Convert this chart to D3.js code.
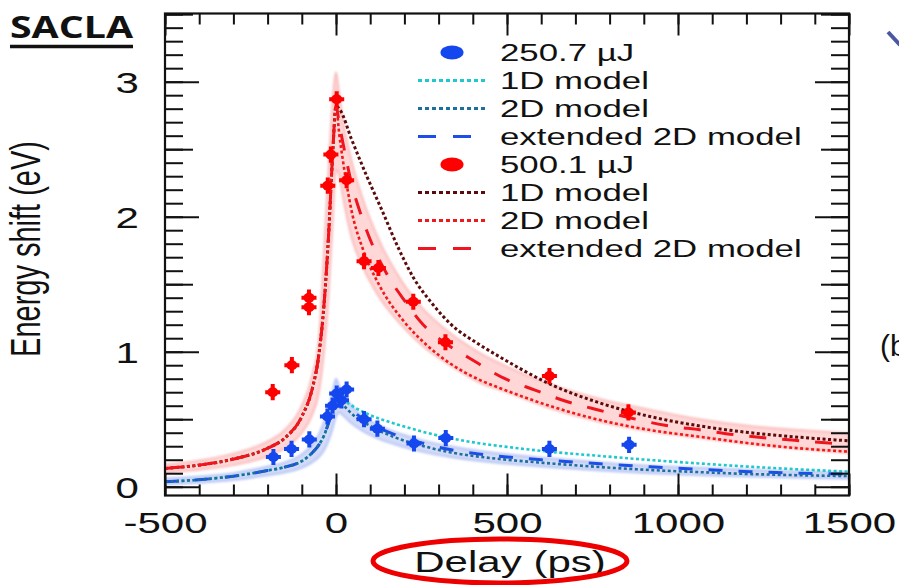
<!DOCTYPE html>
<head>
  <meta charset="utf-8">
  <title></title>
</head>
<style media="screen">
  body { margin: 0; background: white; }
  svg text { font-family: "Liberation Sans", Arial, sans-serif; fill: #111; }
  .ticks line { stroke: #111; stroke-width: 2px; }
  .ticks path { display: none; }
</style>
<body>
  <script src="https://d3js.org/d3.v7.min.js"></script>
  <svg id="svg_chart" width="899" height="585"></svg>
  <script type="text/javascript">
    // measured points (delay in ps, shift in eV)
    var blueT = [-183, -130, -78, -25, -10, 2, 16, 31, 82, 121, 228, 321, 624, 857]
    var blueV = [0.22, 0.28, 0.35, 0.52, 0.60, 0.69, 0.64, 0.72, 0.50, 0.43, 0.32, 0.36, 0.28, 0.31]
    var redT = [-185, -129, -79, -79, -24, -15, 2, 31, 82, 124, 226, 320, 624, 855]
    var redV = [0.70, 0.90, 1.40, 1.33, 2.23, 2.46, 2.87, 2.27, 1.67, 1.62, 1.37, 1.07, 0.82, 0.55]
    var errT = 22, errV = 0.06

    // model curves, rising edge shared by the three models
    var riseT = [-500, -400, -300, -200, -150, -100, -70, -50, -35, -22, -10, 0]
    var redRise = [0.135, 0.16, 0.205, 0.285, 0.36, 0.52, 0.72, 0.98, 1.35, 1.85, 2.45, 2.82]
    var blueRise = [0.037, 0.052, 0.078, 0.12, 0.145, 0.19, 0.25, 0.31, 0.38, 0.47, 0.57, 0.66]

    var red1D = [[12, 2.79], [46, 2.57], [90, 2.3], [134, 2.05], [182, 1.77], [226, 1.55], [280, 1.36], [333, 1.21], [421, 1.05], [480, 0.96], [626, 0.76], [772, 0.62], [918, 0.52], [1064, 0.45], [1211, 0.40], [1357, 0.366], [1500, 0.34]]
    var red2D = [[10, 2.6], [20, 2.42], [45, 2.05], [80, 1.75], [125, 1.5], [200, 1.22], [265, 1.05], [333, 0.914], [421, 0.79], [480, 0.73], [626, 0.598], [772, 0.494], [918, 0.42], [1064, 0.37], [1211, 0.321], [1357, 0.284], [1500, 0.26]]
    var redExt = [[10, 2.68], [20, 2.55], [45, 2.25], [75, 2.0], [110, 1.77], [150, 1.57], [200, 1.38], [255, 1.2], [319, 1.065], [392, 0.95], [494, 0.8], [582, 0.716], [670, 0.635], [767, 0.568], [865, 0.507], [962, 0.455], [1069, 0.42], [1167, 0.385], [1274, 0.358], [1371, 0.338], [1500, 0.312]]
    var blue1D = [[10, 0.66], [25, 0.635], [51, 0.593], [100, 0.53], [168, 0.47], [250, 0.41], [314, 0.37], [411, 0.325], [500, 0.295], [626, 0.259], [772, 0.228], [918, 0.198], [1064, 0.172], [1211, 0.148], [1357, 0.128], [1500, 0.111]]
    var blue2D = [[10, 0.64], [20, 0.61], [51, 0.53], [100, 0.45], [168, 0.37], [250, 0.305], [333, 0.255], [411, 0.225], [500, 0.2], [626, 0.173], [772, 0.146], [918, 0.124], [1064, 0.108], [1211, 0.094], [1357, 0.085], [1500, 0.079]]
    var blueExt = [[10, 0.65], [20, 0.625], [51, 0.555], [100, 0.47], [168, 0.39], [250, 0.325], [333, 0.275], [411, 0.245], [500, 0.22], [626, 0.195], [772, 0.17], [918, 0.148], [1064, 0.128], [1211, 0.111], [1357, 0.1], [1500, 0.094]]

    // uncertainty bands
    var bandT = [-500, -400, -300, -200, -150, -100, -70, -50, -35, -22, -10, 0, 10, 20, 45, 80, 120, 190, 250, 333, 421, 500, 626, 772, 918, 1064, 1211, 1357, 1500]
    var redHi = [0.165, 0.195, 0.245, 0.335, 0.42, 0.6, 0.82, 1.1, 1.75, 2.35, 2.85, 3.07, 2.9, 2.72, 2.42, 2.12, 1.86, 1.53, 1.33, 1.14, 0.99, 0.89, 0.76, 0.65, 0.57, 0.5, 0.45, 0.42, 0.395]
    var redLo = [0.105, 0.125, 0.16, 0.225, 0.285, 0.4, 0.53, 0.7, 1.0, 1.4, 1.95, 2.35, 2.3, 2.15, 1.85, 1.62, 1.43, 1.2, 1.05, 0.9, 0.77, 0.7, 0.58, 0.48, 0.41, 0.36, 0.315, 0.28, 0.25]
    var blueHi = [0.06, 0.075, 0.1, 0.15, 0.18, 0.24, 0.31, 0.39, 0.48, 0.58, 0.7, 0.8, 0.74, 0.69, 0.6, 0.52, 0.46, 0.39, 0.345, 0.3, 0.265, 0.24, 0.21, 0.18, 0.155, 0.14, 0.125, 0.112, 0.105]
    var blueLo = [0.018, 0.03, 0.05, 0.085, 0.105, 0.14, 0.18, 0.22, 0.27, 0.34, 0.43, 0.52, 0.55, 0.53, 0.47, 0.41, 0.36, 0.3, 0.26, 0.22, 0.19, 0.17, 0.145, 0.12, 0.1, 0.085, 0.075, 0.066, 0.06]

    var xMajor = [-500, 0, 500, 1000, 1500]
    var yMajor = [0, 1, 2, 3]

    var legendItems = [
      { label: "250.7 µJ", kind: "dot", color: "#1448ee" },
      { label: "1D model", kind: "line", color: "#1ec8cc", dash: "4,3" },
      { label: "2D model", kind: "line", color: "#1d6f9c", dash: "4,3" },
      { label: "extended 2D model", kind: "line", color: "#1c4fe8", dash: "18,17" },
      { label: "500.1 µJ", kind: "dot", color: "#ff0000" },
      { label: "1D model", kind: "line", color: "#5c0a0a", dash: "4,3" },
      { label: "2D model", kind: "line", color: "#f01818", dash: "4,3" },
      { label: "extended 2D model", kind: "line", color: "#f0141e", dash: "18,17" }
    ]

    var SX = "scale(1.45,1)"   // the figure is stretched sideways
    var svg = d3.select("#svg_chart")

    var x = d3.scaleLinear().domain([-500, 1500]).range([165, 849])
    var y = d3.scaleLinear().domain([-0.065, 3.505]).range([495.5, 13.5])

    var defs = svg.append("defs")
    defs.append("filter").attr("id", "soft")
      .append("feGaussianBlur").attr("stdDeviation", 1.2)
    defs.append("clipPath").attr("id", "plotclip")
      .append("rect").attr("x", 165).attr("y", 13.5).attr("width", 684).attr("height", 482)

    var plot = svg.append("g").attr("clip-path", "url(#plotclip)")

    // bands
    var band = d3.area()
      .x((d, i) => x(bandT[i]))
      .curve(d3.curveMonotoneX)
    var bands = plot.append("g").attr("filter", "url(#soft)")
    bands.append("path")
      .attr("d", band.y0((d, i) => y(redLo[i])).y1((d, i) => y(redHi[i]))(bandT))
      .style("fill", "#ffb0b0").style("fill-opacity", 0.5)
      .style("stroke", "#f7a0a0").style("stroke-width", 2).style("stroke-opacity", 0.6)
    bands.append("path")
      .attr("d", band.y0((d, i) => y(blueLo[i])).y1((d, i) => y(blueHi[i]))(bandT))
      .style("fill", "#a8b8f4").style("fill-opacity", 0.5)
      .style("stroke", "#9aaef0").style("stroke-width", 2).style("stroke-opacity", 0.6)

    // model lines
    var line = d3.line().x(d => x(d[0])).y(d => y(d[1])).curve(d3.curveMonotoneX)
    var redUp = riseT.map((t, i) => [t, redRise[i]])
    var blueUp = riseT.map((t, i) => [t, blueRise[i]])
    var models = [
      { pts: redUp.concat(red1D), color: "#5c0a0a", dash: "3,2.5", w: 3 },
      { pts: redUp.concat(redExt), color: "#f0141e", dash: "17,16", w: 3 },
      { pts: redUp.concat(red2D), color: "#f01818", dash: "3,2.5", w: 2.6 },
      { pts: blueUp.concat(blue1D), color: "#1ec8cc", dash: "3,2.5", w: 2.6 },
      { pts: blueUp.concat(blueExt), color: "#1c4fe8", dash: "14,16", w: 3 },
      { pts: blueUp.concat(blue2D), color: "#1d6f9c", dash: "3,2.5", w: 2.6 }
    ]
    plot.append("g").selectAll("path").data(models).join("path")
      .attr("d", d => line(d.pts))
      .style("fill", "none")
      .style("stroke", d => d.color)
      .style("stroke-width", d => d.w)
      .style("stroke-dasharray", d => d.dash)

    // data points with error crosses
    function drawPoints(ts, vs, color) {
      var g = plot.append("g").selectAll("g").data(ts).join("g")
      g.append("line")
        .attr("x1", (d, i) => x(d - errT)).attr("x2", (d, i) => x(d + errT))
        .attr("y1", (d, i) => y(vs[i])).attr("y2", (d, i) => y(vs[i]))
        .style("stroke", color).style("stroke-width", 4)
      g.append("line")
        .attr("x1", d => x(d)).attr("x2", d => x(d))
        .attr("y1", (d, i) => y(vs[i] - errV)).attr("y2", (d, i) => y(vs[i] + errV))
        .style("stroke", color).style("stroke-width", 4)
      g.append("ellipse")
        .attr("cx", d => x(d)).attr("cy", (d, i) => y(vs[i]))
        .attr("rx", 5.5).attr("ry", 5)
        .style("fill", color)
    }
    drawPoints(redT, redV, "#ff0000")
    drawPoints(blueT, blueV, "#1448ee")

    // axes (ticks on all four sides, pointing inward)
    function axis(gen, tr) {
      var g = svg.append("g").attr("class", "ticks").attr("transform", tr).call(gen)
      return g
    }
    var xMinor = d3.range(-500, 1501, 100)
    var yMinor = d3.range(0, 3.51, 0.1).map(v => Math.round(v * 10) / 10)
    var yMid = [0.5, 1.5, 2.5, 3.5]
    var plain = d => String(d)

    axis(d3.axisBottom(x).tickValues(xMinor).tickSize(-11).tickFormat(""), "translate(0,495.5)")
    var xb = axis(d3.axisBottom(x).tickValues(xMajor).tickSize(-22).tickPadding(17).tickFormat(plain), "translate(0,495.5)")
    axis(d3.axisTop(x).tickValues(xMinor).tickSize(-11).tickFormat(""), "translate(0,13.5)")
    axis(d3.axisTop(x).tickValues(xMajor).tickSize(-22).tickFormat(""), "translate(0,13.5)")

    axis(d3.axisLeft(y).tickValues(yMinor).tickSize(-18).tickFormat(""), "translate(165,0)")
    axis(d3.axisLeft(y).tickValues(yMid).tickSize(-28).tickFormat(""), "translate(165,0)")
    var yl = axis(d3.axisLeft(y).tickValues(yMajor).tickSize(-34).tickPadding(18).tickFormat(plain), "translate(165,0)")
    axis(d3.axisRight(y).tickValues(yMinor).tickSize(-18).tickFormat(""), "translate(849,0)")
    axis(d3.axisRight(y).tickValues(yMid).tickSize(-28).tickFormat(""), "translate(849,0)")
    axis(d3.axisRight(y).tickValues(yMajor).tickSize(-34).tickFormat(""), "translate(849,0)")

    xb.selectAll("text").attr("font-size", 29).attr("font-family", null).attr("transform", SX).style("fill", "#111")
    yl.selectAll("text").attr("font-size", 29).attr("font-family", null).attr("transform", SX).style("fill", "#111")
      .attr("dy", "0.36em")

    svg.append("rect")
      .attr("x", 165).attr("y", 13.5).attr("width", 684).attr("height", 482)
      .style("fill", "none").style("stroke", "#111").style("stroke-width", 2.2)

    // axis titles
    svg.append("text")
      .attr("transform", "translate(40,249) " + SX + " rotate(-90)")
      .attr("text-anchor", "middle")
      .attr("font-size", 29)
      .text("Energy shift (eV)")
    svg.append("text")
      .attr("transform", "translate(510,572) " + SX)
      .attr("text-anchor", "middle")
      .attr("font-size", 29)
      .text("Delay (ps)")
    svg.append("ellipse")
      .attr("cx", 500).attr("cy", 561).attr("rx", 127).attr("ry", 22)
      .style("fill", "none").style("stroke", "#ee0000").style("stroke-width", 5)

    // legend
    var leg = svg.append("g").selectAll("g").data(legendItems).join("g")
      .attr("transform", (d, i) => "translate(0," + (52.5 + i * 28) + ")")
    leg.filter(d => d.kind == "dot").append("ellipse")
      .attr("cx", 452).attr("cy", 0).attr("rx", 11.5).attr("ry", 7)
      .style("fill", d => d.color)
    leg.filter(d => d.kind == "line").append("line")
      .attr("x1", 418).attr("x2", 488).attr("y1", 0).attr("y2", 0)
      .style("stroke", d => d.color).style("stroke-width", 3)
      .style("stroke-dasharray", d => d.dash)
    leg.append("text")
      .attr("transform", "translate(500,8.5) " + SX)
      .attr("font-size", 24)
      .text(d => d.label)

    // panel title
    svg.append("text")
      .attr("x", 10).attr("y", 38)
      .attr("font-weight", 700).attr("font-size", 31)
      .attr("textLength", 123).attr("lengthAdjust", "spacingAndGlyphs")
      .style("font-family", "'Open Sans', sans-serif")
      .text("SACLA")
    svg.append("line")
      .attr("x1", 10).attr("x2", 133).attr("y1", 46.5).attr("y2", 46.5)
      .style("stroke", "#111").style("stroke-width", 3.5)

    // bits of the neighbouring panel
    svg.append("text")
      .attr("x", 880).attr("y", 356).attr("font-size", 30)
      .text("(b)")
    svg.append("line")
      .attr("x1", 888).attr("y1", 32).attr("x2", 900).attr("y2", 45)
      .style("stroke", "#4b57a3").style("stroke-width", 4)
  </script>
</body>

</html>
